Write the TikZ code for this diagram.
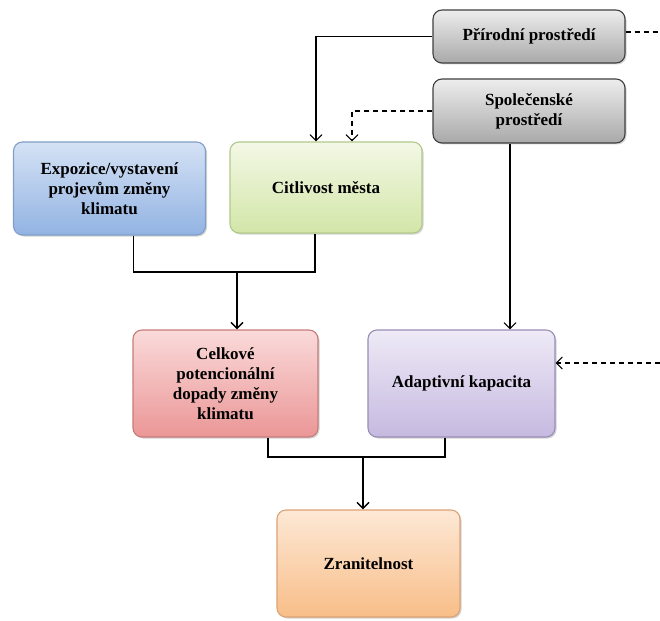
\documentclass[tikz,border=0pt]{standalone}
\usepackage{fontspec}
\setmainfont{Liberation Serif}
\usetikzlibrary{arrows.meta,shadows}

\definecolor{grayTop}{HTML}{EDEDED}
\definecolor{grayBot}{HTML}{A9A9A9}
\definecolor{blueTop}{HTML}{D5E2F5}
\definecolor{blueBot}{HTML}{92B3E3}
\definecolor{blueLine}{HTML}{7F9FC8}
\definecolor{greenTop}{HTML}{F3F8E6}
\definecolor{greenBot}{HTML}{D3E6A8}
\definecolor{greenLine}{HTML}{B3C98C}
\definecolor{redTop}{HTML}{FADADA}
\definecolor{redBot}{HTML}{EB9696}
\definecolor{redLine}{HTML}{C77B7B}
\definecolor{purpleTop}{HTML}{EEEAF6}
\definecolor{purpleBot}{HTML}{C6B9E0}
\definecolor{purpleLine}{HTML}{9A8EB6}
\definecolor{orangeTop}{HTML}{FDE8D6}
\definecolor{orangeBot}{HTML}{F8BE88}
\definecolor{orangeLine}{HTML}{DDA275}

\tikzset{
    box/.style={draw, rounded corners=9pt, align=center, inner sep=4pt,
        font=\bfseries\fontsize{17}{20}\selectfont,
        drop shadow={shadow xshift=1.5pt, shadow yshift=-1.5pt, opacity=0.35}},
    graybox/.style={box, draw=black!75, top color=grayTop, bottom color=grayBot},
    arr/.style={-{Straight Barb[length=6pt,width=12pt]}},
    dash line/.style={dash pattern=on 5pt off 4pt},
}

\begin{document}
\begin{tikzpicture}[x=1pt, y=-1pt, line width=1.1pt]
    \useasboundingbox (0,0) rectangle (660,620);

    \node [graybox, minimum width=192pt, minimum height=53pt] (prir) at (529,36.5) {Přírodní prostředí};
    \node [graybox, minimum width=192pt, minimum height=64pt] (spol) at (529,111) {Společenské\\prostředí};

    \node [box, draw=blueLine, top color=blueTop, bottom color=blueBot,
           minimum width=192pt, minimum height=93pt] (expo) at (109.5,188.5)
           {Expozice/vystavení\\projevům změny\\klimatu};
    \node [box, draw=greenLine, top color=greenTop, bottom color=greenBot,
           minimum width=192pt, minimum height=91pt] (cit) at (326,187.5) {Citlivost města};

    \node [box, draw=redLine, top color=redTop, bottom color=redBot,
           minimum width=185pt, minimum height=107pt] (celk) at (225.5,383.5)
           {Celkové\\potencionální\\dopady změny\\klimatu};
    \node [box, draw=purpleLine, top color=purpleTop, bottom color=purpleBot,
           minimum width=187pt, minimum height=107pt] (adap) at (461.5,383.5) {Adaptivní kapacita};

    \node [box, draw=orangeLine, top color=orangeTop, bottom color=orangeBot,
           minimum width=183pt, minimum height=107pt] (zran) at (368.5,563.5) {Zranitelnost};

    % joints and free ends
    \coordinate (j1) at (237,272);
    \coordinate (j2) at (363,457);
    \coordinate (prirOut) at (660,32);
    \coordinate (adapIn) at (660,363);

    \draw [arr] (prir.west) -| ([xshift=-10pt]cit.north);
    \draw [arr, dash line] (spol.west) -| ([xshift=26pt]cit.north);
    \draw [dash line] (prir.east |- prirOut) -- (prirOut);
    \draw [arr] ([xshift=-19pt]spol.south) -- ([xshift=-19pt]spol.south |- adap.north);
    \draw [arr, dash line] (adapIn) -- (adapIn -| adap.east);

    \draw [line width=1.8pt] ([xshift=24pt]expo.south) |- (j1) -| ([xshift=-11pt]cit.south);
    \draw [arr, line width=1.4pt] (j1) -- (j1 |- celk.north);

    \draw [line width=1.8pt] ([xshift=42.5pt]celk.south) |- (j2) -| ([xshift=-16.5pt]adap.south);
    \draw [arr, line width=1.4pt] (j2) -- (j2 |- zran.north);
\end{tikzpicture}
\end{document}
